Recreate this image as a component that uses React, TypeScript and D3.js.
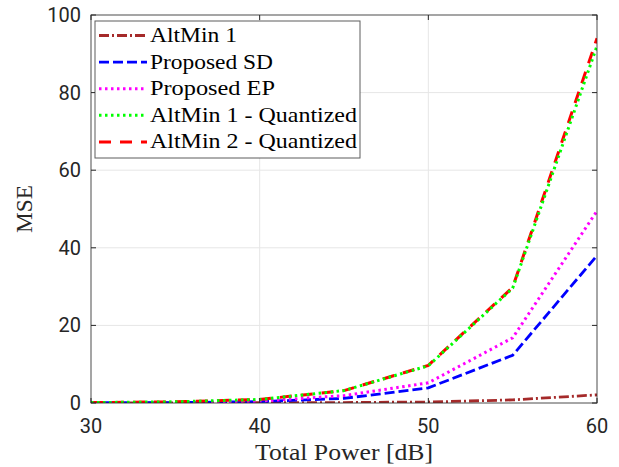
import React from "react";
import * as d3 from "d3";

const powers = [30, 35, 40, 45, 50, 55, 60];
const altMin1 = [0.05, 0.05, 0.08, 0.12, 0.25, 0.8, 2.1];
const proposedSD = [0.05, 0.1, 0.35, 1.2, 3.9, 12.3, 38];
const proposedEP = [0.05, 0.15, 0.5, 1.9, 5.2, 16.8, 49.5];
const altMin1Q = [0.1, 0.3, 0.9, 3.2, 9.6, 29.6, 92];
const altMin2Q = [0.1, 0.3, 0.9, 3.2, 9.7, 29.8, 94];
const xTicks = [30, 40, 50, 60];
const yTicks = [0, 20, 40, 60, 80, 100];

const series = [
  { name: "AltMin 1", values: altMin1, color: "#A52A2A", dash: "10,3,2,3", width: 2.8, tl: 87 },
  { name: "Proposed SD", values: proposedSD, color: "#0000FF", dash: "10,4", width: 2.8, tl: 123 },
  { name: "Proposed EP", values: proposedEP, color: "#FF00FF", dash: "2.5,3.5", width: 3, tl: 125 },
  { name: "AltMin 1 - Quantized", values: altMin1Q, color: "#00FF00", dash: "2.5,3.5", width: 3, tl: 207 },
  { name: "AltMin 2 - Quantized", values: altMin2Q, color: "#FF0000", dash: "12,9", width: 3, tl: 207 },
];

export default function App() {
  const W = 619, H = 467;
  const left = 91, right = 597, top = 15, bottom = 403;
  const x = d3.scaleLinear().domain([30, 60]).range([left, right]);
  const y = d3.scaleLinear().domain([0, 100]).range([bottom, top]);
  const line = d3.line<number>().x((_, i) => x(powers[i])).y((d) => y(d));
  const sans = "Roboto, 'Liberation Sans', sans-serif";
  const serif = "'Liberation Serif', 'DejaVu Serif', serif";
  const drawOrder = [0, 1, 2, 4, 3];
  return (
    <svg width={W} height={H} style={{ position: "absolute", left: 0, top: 0 }}>
      <rect width={W} height={H} fill="#fff" />
      {xTicks.map((t) => (
        <line key={"gx" + t} x1={x(t)} x2={x(t)} y1={top} y2={bottom} stroke="#e6e6e6" strokeWidth={1} />
      ))}
      {yTicks.map((t) => (
        <line key={"gy" + t} x1={left} x2={right} y1={y(t)} y2={y(t)} stroke="#e6e6e6" strokeWidth={1} />
      ))}
      <defs>
        <clipPath id="plot">
          <rect x={left} y={top} width={right - left} height={bottom - top} />
        </clipPath>
      </defs>
      <g clipPath="url(#plot)">
        {drawOrder.map((i) => {
          const s = series[i];
          return (
            <path key={s.name} d={line(s.values) || ""} fill="none" stroke={s.color}
              strokeWidth={s.width} strokeDasharray={s.dash} />
          );
        })}
      </g>
      <rect x={left} y={top} width={right - left} height={bottom - top} fill="none" stroke="#262626" strokeOpacity={0.75} strokeWidth={1} />
      {xTicks.map((t) => (
        <g key={"tx" + t}>
          <line x1={x(t)} x2={x(t)} y1={bottom} y2={bottom - 5} stroke="#262626" />
          <line x1={x(t)} x2={x(t)} y1={top} y2={top + 5} stroke="#262626" />
          <text x={x(t)} y={433} textAnchor="middle" fontFamily={sans} fontSize={20} fill="#262626">{t}</text>
        </g>
      ))}
      {yTicks.map((t) => (
        <g key={"ty" + t}>
          <line x1={left} x2={left + 5} y1={y(t)} y2={y(t)} stroke="#262626" />
          <line x1={right} x2={right - 5} y1={y(t)} y2={y(t)} stroke="#262626" />
          <text x={left - 10} y={y(t) + 7} textAnchor="end" fontFamily={sans} fontSize={20} fill="#262626">{t}</text>
        </g>
      ))}
      <text x={344} y={460} textAnchor="middle" fontFamily={serif} fontSize={24} fill="#262626"
        textLength={178} lengthAdjust="spacingAndGlyphs">Total Power [dB]</text>
      <text transform={`translate(32,209) rotate(-90)`} textAnchor="middle" fontFamily={serif} fontSize={23} fill="#262626"
        textLength={48} lengthAdjust="spacingAndGlyphs">MSE</text>
      <rect x={95} y={21} width={265} height={137} fill="#fff" stroke="#262626" strokeOpacity={0.75} strokeWidth={1} />
      {series.map((s, i) => {
        const ly = 35.5 + i * 26.6;
        return (
          <g key={"lg" + s.name}>
            <line x1={99} x2={147} y1={ly} y2={ly} stroke={s.color} strokeWidth={s.width} strokeDasharray={s.dash} />
            <text x={150} y={ly + 6.5} fontFamily={serif} fontSize={21} fill="#000"
              textLength={s.tl} lengthAdjust="spacingAndGlyphs">{s.name}</text>
          </g>
        );
      })}
    </svg>
  );
}
